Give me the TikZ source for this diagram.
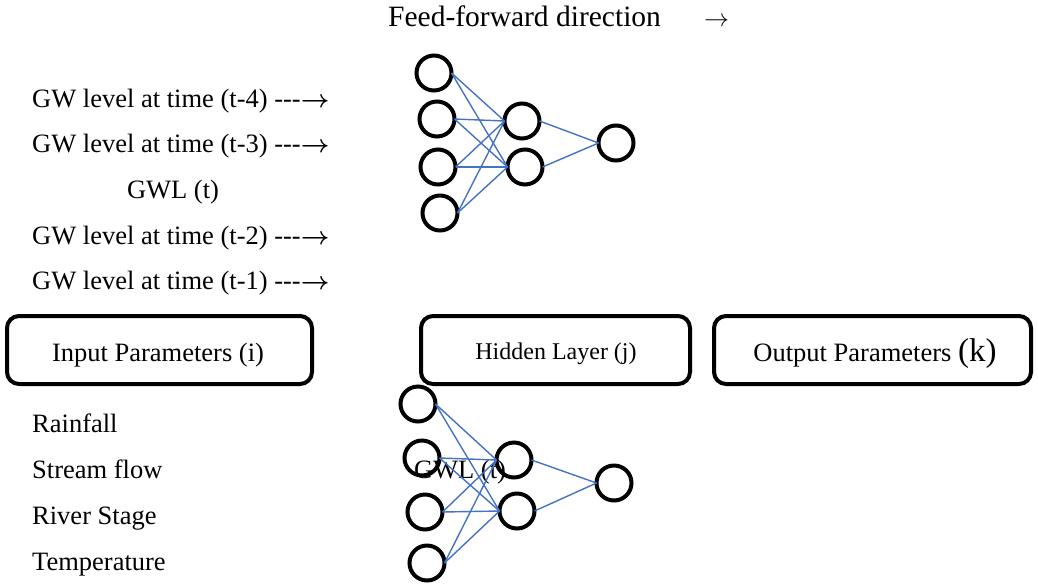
\documentclass[tikz,border=0pt]{standalone}
\usepackage{fontspec}
\setmainfont{Liberation Serif}
\newcommand{\labarrow}{{\boldmath$\rightarrow$}}
\begin{document}
\begin{tikzpicture}[x=1pt,y=-1pt,
  neuron/.style={draw,circle,line width=4pt,minimum size=35pt,inner sep=0pt,outer sep=0pt},
  conn/.style={draw=linkblue,line width=1.4pt},
  lbl/.style={font=\fontsize{26.5}{30}\selectfont,inner sep=0pt},
  box/.style={draw,line width=4pt,rounded corners=12pt,minimum height=68pt,inner sep=0pt}]
\definecolor{linkblue}{HTML}{4472C4}
\useasboundingbox (0,0) rectangle (1038,587);
% top title
\node[lbl,anchor=base west,font=\fontsize{29.5}{33}\selectfont] (ff) at (388,26) {Feed-forward direction};
\node[lbl,anchor=base west,font=\fontsize{28}{32}\selectfont] (ffarrow) at (704,26) {$\rightarrow$};
% left labels
\node[lbl,anchor=base west] (l4) at (32,107) {GW level at time (t-4) {-}{-}{-}\labarrow};
\node[lbl,anchor=base west] (l3) at (32,152) {GW level at time (t-3) {-}{-}{-}\labarrow};
\node[lbl,anchor=base] (gwl) at (173,198) {GWL (t)};
\node[lbl,anchor=base west] (l2) at (32,244) {GW level at time (t-2) {-}{-}{-}\labarrow};
\node[lbl,anchor=base west] (l1) at (32,289) {GW level at time (t-1) {-}{-}{-}\labarrow};
% boxes
\node[box,minimum width=305pt] (inbox) at (159.5,350) {};
\node[lbl,anchor=base] (intext) at (158,361) {Input Parameters (i)};
\node[box,minimum width=269pt] (hidbox) at (555.5,350) {};
\node[lbl,anchor=base,font=\fontsize{24}{28}\selectfont] (hidtext) at (556,359) {Hidden Layer (j)};
\node[box,minimum width=317pt] (outbox) at (872.5,350) {};
\node[lbl,anchor=base] (outtext) at (875,361) {Output Parameters {\fontsize{33}{36}\selectfont(k)}};
% bottom labels
\node[lbl,anchor=base west] (rain) at (32,432) {Rainfall};
\node[lbl,anchor=base west] (stream) at (32,478) {Stream flow};
\node[lbl,anchor=base west] (river) at (32,524) {River Stage};
\node[lbl,anchor=base west] (temp) at (32,570) {Temperature};
% bottom overlapping label
\node[lbl,anchor=base] (gwlb) at (460,478) {GWL (t)};
% top network
\node[neuron] (a1) at (434,73) {};
\node[neuron] (a2) at (437,119) {};
\node[neuron] (a3) at (438,167) {};
\node[neuron] (a4) at (440,213) {};
\node[neuron] (b1) at (522,121) {};
\node[neuron] (b2) at (525,167) {};
\node[neuron] (c1) at (616,143) {};
\foreach \i in {1,2,3,4}{
  \draw[conn] (a\i.east) -- (b1.west);
  \draw[conn] (a\i.east) -- (b2.west);
}
\draw[conn] (b1.east) -- (c1.west);
\draw[conn] (b2.east) -- (c1.west);
% bottom network
\node[neuron] (d1) at (418,404) {};
\node[neuron] (d2) at (422,458) {};
\node[neuron] (d3) at (425,512) {};
\node[neuron] (d4) at (427,563) {};
\node[neuron] (e1) at (514,460) {};
\node[neuron] (e2) at (517,511) {};
\node[neuron] (f1) at (614,483) {};
\foreach \i in {1,2,3,4}{
  \draw[conn] (d\i.east) -- (e1.west);
  \draw[conn] (d\i.east) -- (e2.west);
}
\draw[conn] (e1.east) -- (f1.west);
\draw[conn] (e2.east) -- (f1.west);
\end{tikzpicture}
\end{document}
